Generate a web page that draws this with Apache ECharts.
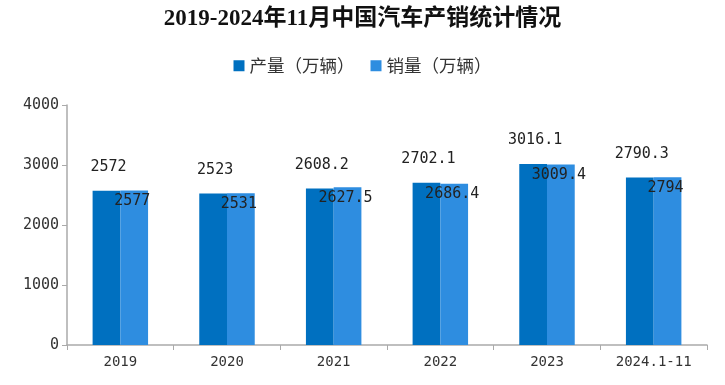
<!DOCTYPE html>
<html><head><meta charset="utf-8">
<script src="https://cdn.jsdelivr.net/npm/echarts@6/dist/echarts.min.js"></script>
<style>html,body{margin:0;padding:0;background:#fff}#c{width:725px;height:385px}</style>
</head><body><div id="c"></div>
<script>
const categories = ['2019','2020','2021','2022','2023','2024.1-11'];
const production = [2572, 2523, 2608.2, 2702.1, 3016.1, 2790.3];
const sales = [2577, 2531, 2627.5, 2686.4, 3009.4, 2794];
const seriesNames = ['产量（万辆）','销量（万辆）'];
const yTicks = [0, 1000, 2000, 3000, 4000];

const labelFont = '"DejaVu Sans Mono", "Noto Sans CJK SC", monospace';
const chart = echarts.init(document.getElementById('c'));
chart.setOption({
  animation:false,
  title:{text:'2019-2024年11月中国汽车产销统计情况',left:'center',top:3,
    textStyle:{fontFamily:'"Liberation Serif","Noto Sans CJK SC",serif',fontWeight:'bold',fontSize:23,color:'#111'}},
  legend:{top:52,left:'center',itemWidth:11,itemHeight:11,itemGap:16,icon:'rect',
    textStyle:{fontSize:17.5,color:'#333',fontFamily:'"Noto Sans CJK SC",sans-serif'}},
  grid:{left:67,right:18,top:105,bottom:40,containLabel:false},
  xAxis:{type:'category',data:categories,
    axisLine:{lineStyle:{color:'#aaa',width:1.5}},
    axisTick:{show:true,lineStyle:{color:'#aaa'},length:5},
    axisLabel:{color:'#333',fontSize:14,margin:10,fontFamily:labelFont}},
  yAxis:{type:'value',min:yTicks[0],max:yTicks[yTicks.length-1],interval:1000,
    axisLine:{show:true,lineStyle:{color:'#aaa',width:1.5}},
    axisTick:{show:true,lineStyle:{color:'#aaa'},length:5},
    splitLine:{show:false},
    axisLabel:{color:'#333',fontSize:15,margin:8,fontFamily:labelFont,formatter:v=>String(v)}},
  series:[
    {name:seriesNames[0],type:'bar',data:production,barWidth:'26%',barGap:'0%',
      itemStyle:{color:'#0070C0'},
      label:{show:true,position:'top',distance:16,offset:[2,0],color:'#222',fontSize:15,fontFamily:labelFont}},
    {name:seriesNames[1],type:'bar',data:sales,barWidth:'26%',barGap:'0%',
      itemStyle:{color:'#2E8DE0'},
      label:{show:true,position:'insideTop',offset:[-2,-2],color:'#222',fontSize:15,fontFamily:labelFont}}
  ]
});
</script></body></html>
